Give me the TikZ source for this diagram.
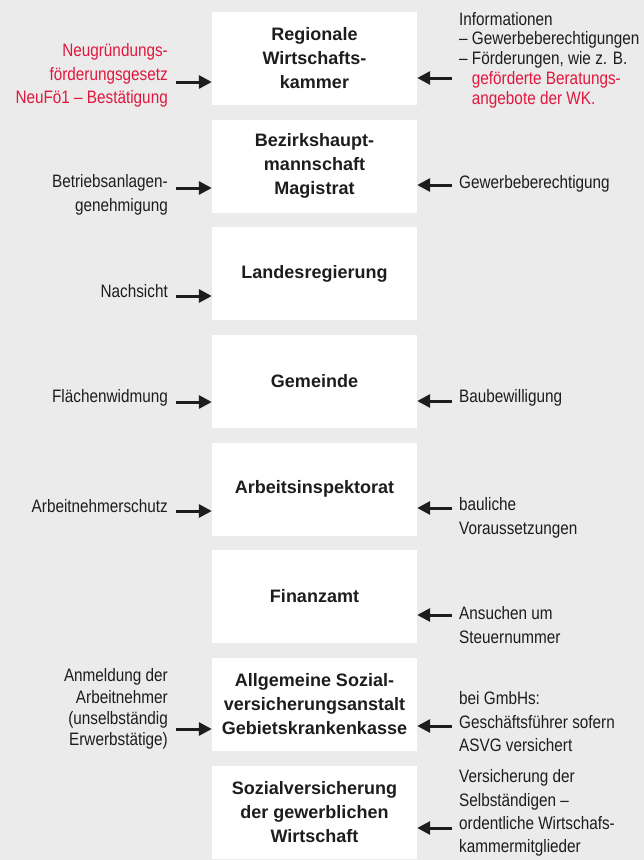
\documentclass[tikz,border=0pt]{standalone}
\usepackage{fontspec}
\usepackage{xcolor}
\usepackage{tikz}
\usetikzlibrary{positioning, arrows.meta}

\setmainfont{Liberation Sans}
\newfontfamily\lblfont[FakeStretch=0.85]{Liberation Sans}
\definecolor{bggray}{HTML}{EAEBEA}
\definecolor{wkred}{HTML}{E3173E}
\definecolor{ink}{HTML}{1D1D1B}

\begin{document}
\begin{tikzpicture}[x=1pt, y=-1pt,
    amt/.style={fill=white, minimum width=205pt, minimum height=93pt, inner sep=0pt,
        align=center, text=ink, font=\fontsize{18}{24}\selectfont\bfseries},
    lbl/.style={inner sep=0pt, text=ink, font=\lblfont\fontsize{18}{22}\selectfont},
    lbll/.style={lbl, anchor=east, align=right},
    lblr/.style={lbl, anchor=west, align=left},
    arr/.style={line width=3pt, ink, -{Triangle[length=13pt,width=13pt]}}]

    \useasboundingbox (0,0) rectangle (644,860);
    \fill[bggray] (0,0) rectangle (644,860);

    % Behoerden
    \node[amt] (rwk)  at (314.5,58.5)  {Regionale\\Wirtschafts-\\kammer};
    \node[amt] (bh)   at (314.5,166)   {Bezirkshaupt-\\mannschaft\\Magistrat};
    \node[amt] (lr)   at (314.5,273.5) {Landesregierung};
    \node[amt] (gem)  at (314.5,381.5) {Gemeinde};
    \node[amt] (ai)   at (314.5,489)   {Arbeitsinspektorat};
    \node[amt] (fa)   at (314.5,596.5) {Finanzamt};
    \node[amt] (asv)  at (314.5,704.5) {Allgemeine Sozial-\\versicherungsanstalt\\Gebietskrankenkasse};
    \node[amt] (svgw) at (314.5,812)   {Sozialversicherung\\der gewerblichen\\Wirtschaft};

    % linke Seite
    \node[lbll, text=wkred, font=\lblfont\fontsize{18}{23.5}\selectfont] (neufoe) at (168,75.7)
        {Neugründungs-\\förderungsgesetz\\NeuFö1 – Bestätigung};
    \node[lbll, font=\lblfont\fontsize{18}{24}\selectfont] (betrieb) at (168,195) {Betriebsanlagen-\\genehmigung};
    \node[lbll] (nachsicht) at (168,291) {Nachsicht};
    \node[lbll] (flaeche) at (168,398) {Flächenwidmung};
    \node[lbll] (anschutz) at (168,506) {Arbeitnehmerschutz};
    \node[lbll, font=\lblfont\fontsize{18}{21.3}\selectfont] (anmeld) at (168,709)
        {Anmeldung der\\Arbeitnehmer\\(unselbständig\\Erwerbstätige)};

    % rechte Seite
    \node[lblr, font=\lblfont\fontsize{18}{19.7}\selectfont] (info) at (459,60)
        {Informationen\\– Gewerbeberechtigungen\\– Förderungen, wie z. B.\\
         \phantom{–\ }\textcolor{wkred}{geförderte Beratungs-}\\
         \phantom{–\ }\textcolor{wkred}{angebote der WK.}};
    \node[lblr] (gewerbe) at (459,184) {Gewerbeberechtigung};
    \node[lblr] (bau) at (459,398) {Baubewilligung};
    \node[lblr, font=\lblfont\fontsize{18}{24}\selectfont] (baulich) at (459,518) {bauliche\\Voraussetzungen};
    \node[lblr, font=\lblfont\fontsize{18}{24}\selectfont] (steuer) at (459,625) {Ansuchen um\\Steuernummer};
    \node[lblr, font=\lblfont\fontsize{18}{23.5}\selectfont] (gmbh) at (459,722)
        {bei GmbHs:\\Geschäftsführer sofern\\ASVG versichert};
    \node[lblr, font=\lblfont\fontsize{18}{23.3}\selectfont] (selbst) at (459,813)
        {Versicherung der\\Selbständigen –\\ordentliche Wirtschafs-\\kammermitglieder};

    % Pfeile links
    \coordinate (l1) at (176,82);
    \coordinate (l2) at (176,188);
    \coordinate (l3) at (176,296);
    \coordinate (l4) at (176,402);
    \coordinate (l5) at (176,511);
    \coordinate (l7) at (176,729);
    \draw[arr] (l1) -- (l1 -| rwk.west);
    \draw[arr] (l2) -- (l2 -| bh.west);
    \draw[arr] (l3) -- (l3 -| lr.west);
    \draw[arr] (l4) -- (l4 -| gem.west);
    \draw[arr] (l5) -- (l5 -| ai.west);
    \draw[arr] (l7) -- (l7 -| asv.west);

    % Pfeile rechts
    \coordinate (r1) at (452,78);
    \coordinate (r2) at (452,185);
    \coordinate (r4) at (452,401);
    \coordinate (r5) at (452,508);
    \coordinate (r6) at (452,615);
    \coordinate (r7) at (452,726);
    \coordinate (r8) at (452,828);
    \draw[arr] (r1) -- (r1 -| rwk.east);
    \draw[arr] (r2) -- (r2 -| bh.east);
    \draw[arr] (r4) -- (r4 -| gem.east);
    \draw[arr] (r5) -- (r5 -| ai.east);
    \draw[arr] (r6) -- (r6 -| fa.east);
    \draw[arr] (r7) -- (r7 -| asv.east);
    \draw[arr] (r8) -- (r8 -| svgw.east);

\end{tikzpicture}
\end{document}
